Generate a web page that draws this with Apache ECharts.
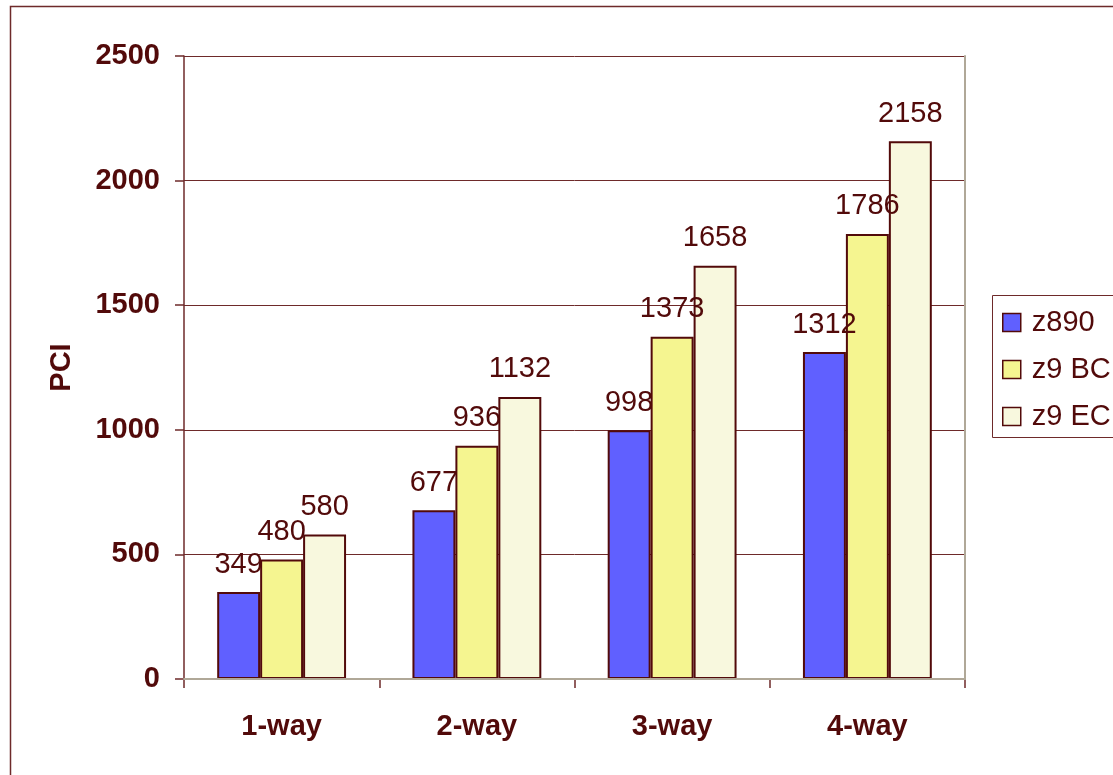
<!DOCTYPE html>
<html>
<head>
<meta charset="utf-8">
<script src="https://cdn.jsdelivr.net/npm/echarts@6/dist/echarts.min.js"></script>
<style>html,body{margin:0;padding:0;background:#fff;}#c{width:1113px;height:775px;}</style>
</head>
<body>
<div id="c"></div>
<script>
const categories = ['1-way', '2-way', '3-way', '4-way'];
const seriesNames = ['z890', 'z9 BC', 'z9 EC'];
const z890 = [349, 677, 998, 1312];
const z9BC = [480, 936, 1373, 1786];
const z9EC = [580, 1132, 1658, 2158];
const yTicks = [0, 500, 1000, 1500, 2000, 2500];

const maroon = '#520a0a';
const lineMaroon = '#6e2a2a';
const gray = '#b0a898';
const colors = ['#6060ff', '#f5f590', '#f8f8de'];
const font = 'Liberation Sans, Arial, sans-serif';
const FS = 29;

const chart = echarts.init(document.getElementById('c'), null, {renderer: 'canvas'});
const data = [z890, z9BC, z9EC];
chart.setOption({
  animation: false,
  backgroundColor: '#fff',
  graphic: [{
    type: 'rect', left: 8, top: 4, z: -10,
    shape: {x: 0, y: 0, width: 1300, height: 1000},
    style: {fill: 'none', stroke: lineMaroon, lineWidth: 1.5}
  }, {
    type: 'rect', left: 992, top: 295, z: -5,
    shape: {x: 0, y: 0, width: 300, height: 142},
    style: {fill: '#fff', stroke: lineMaroon, lineWidth: 1}
  }],
  grid: {left: 184, right: 148, top: 56, bottom: 96},
  legend: {
    orient: 'vertical', left: 992, top: 295,
    itemWidth: 18, itemHeight: 18, itemGap: 18,
    padding: [13, 5, 6, 10],
    icon: 'rect',
    textStyle: {fontSize: FS, fontFamily: font, color: maroon, padding: [0, 0, 0, 6]},
    itemStyle: {borderColor: maroon, borderWidth: 1.5},
    data: seriesNames
  },
  xAxis: [{
    type: 'category', data: categories,
    axisLine: {lineStyle: {color: lineMaroon, width: 1.5}},
    axisTick: {show: true, length: 9, lineStyle: {color: lineMaroon, width: 1.5}},
    axisLabel: {fontSize: FS, fontWeight: 'bold', fontFamily: font, color: maroon, margin: 33}
  }, {
    type: 'category', data: categories, position: 'top', z: 10,
    axisLine: {lineStyle: {color: gray, width: 2}},
    axisTick: {show: false}, axisLabel: {show: false}
  }],
  yAxis: [{
    type: 'value', min: yTicks[0], max: yTicks[yTicks.length - 1], interval: 500,
    name: 'PCI', nameLocation: 'middle', nameGap: 108, nameRotate: 90,
    nameTextStyle: {fontSize: FS, fontWeight: 'bold', fontFamily: font, color: maroon},
    axisLine: {show: true, lineStyle: {color: lineMaroon, width: 1.5}},
    axisTick: {show: true, length: 9, lineStyle: {color: lineMaroon, width: 1.5}},
    splitLine: {show: true, lineStyle: {color: lineMaroon, width: 1}},
    axisLabel: {fontSize: FS, fontWeight: 'bold', fontFamily: font, color: maroon, margin: 24,
      formatter: v => String(v)}
  }, {
    type: 'value', min: yTicks[0], max: yTicks[yTicks.length - 1], interval: 500,
    position: 'right', z: 10,
    axisLine: {show: true, lineStyle: {color: gray, width: 2}},
    axisTick: {show: false}, axisLabel: {show: false}, splitLine: {show: false}
  }],
  series: seriesNames.map((n, i) => ({
    name: n, type: 'bar', data: data[i],
    barGap: '0%', barCategoryGap: '34%',
    itemStyle: {color: colors[i], borderColor: maroon, borderWidth: 2},
    label: {show: true, position: 'top', distance: 13, fontSize: FS, fontFamily: font, color: maroon}
  }))
});
</script>
</body>
</html>
